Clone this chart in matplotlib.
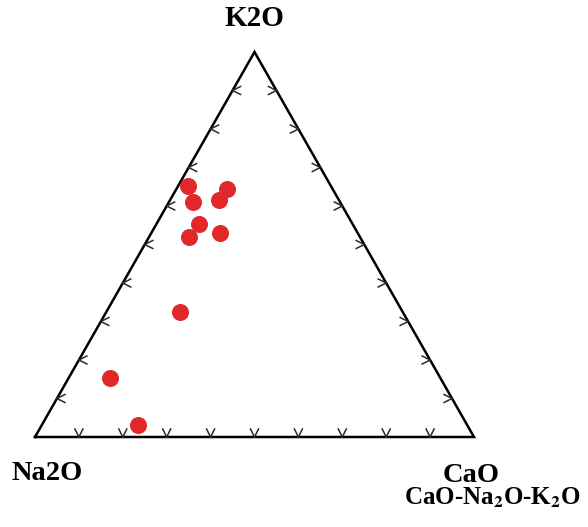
import numpy as np
import matplotlib.pyplot as plt

plt.rcParams['font.family'] = ['Liberation Serif', 'DejaVu Serif']
plt.rcParams['mathtext.fontset'] = 'stix'

# sample compositions (fractions)
na2o = [0.325, 0.241, 0.335, 0.273, 0.350, 0.390, 0.314, 0.507, 0.753, 0.750]
cao = [0.023, 0.115, 0.055, 0.111, 0.097, 0.091, 0.156, 0.168, 0.094, 0.219]
k2o = [0.652, 0.644, 0.610, 0.616, 0.553, 0.519, 0.530, 0.325, 0.153, 0.031]

ticks = np.arange(1, 10) / 10
H = np.sqrt(3) / 2

fig = plt.figure(figsize=(5.88, 5.27), dpi=100)
ax = fig.add_axes([0, 0, 1, 1])
# pixel scale of the axes: 439 px per x unit, 385/H px per y unit
sx, sy = 439, 385 / H
ax.set_xlim(-35 / sx, (588 - 35) / sx)
ax.set_ylim(-90 / sy, (527 - 90) / sy)
ax.axis('off')

# triangle
ax.plot([0, 1, 0.5, 0], [0, 0, H, 0], color='black', lw=1.8, solid_joinstyle='miter')


def chevron(x0, y0, arms):
    for dx, dy in arms:
        ax.plot([x0, x0 + dx / sx], [y0, y0 + dy / sy], color='#2a2a2a', lw=1.1)


for t in ticks:
    chevron(t, 0, [(-4, 8), (4, 8)])                # bottom edge
    chevron(t / 2, t * H, [(8, 4), (8, -4)])         # left edge
    chevron(1 - t / 2, t * H, [(-8, 4), (-8, -4)])   # right edge

# data points
na = np.array(na2o); ca = np.array(cao); k = np.array(k2o)
tot = na + ca + k
xs = (ca + k / 2) / tot
ys = k / tot * H
ax.scatter(xs, ys, s=150, color='#e0282a', zorder=3, linewidths=0)

ax.text(0.5, H + 34 / sy, 'K2O', ha='center', va='center', fontsize=21, fontweight='bold')
ax.text(0.028, -36 / sy, 'Na2O', ha='center', va='center', fontsize=20.5, fontweight='bold')
ax.text(0.993, -38 / sy, 'CaO', ha='center', va='center', fontsize=20.5, fontweight='bold')
ax.text(1.043, -61 / sy, r'CaO-Na$_\mathbf{2}$O-K$_\mathbf{2}$O', ha='center', va='center',
        fontsize=18, fontweight='bold')

fig.savefig('out.png', dpi=100)
